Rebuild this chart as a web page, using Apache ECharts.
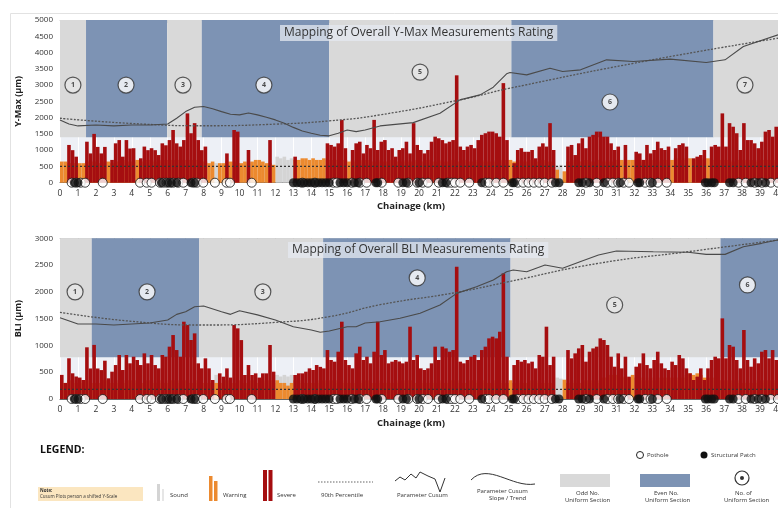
<!DOCTYPE html>
<html><head><meta charset="utf-8">
<script src="https://cdn.jsdelivr.net/npm/echarts@6/dist/echarts.min.js"></script>
<style>html,body{margin:0;padding:0;background:#fff;overflow:hidden;width:778px;height:508px}#c{width:778px;height:508px;position:absolute;left:0;top:0}</style>
</head><body><div id="c"></div>
<script>
// ---------- DATA ----------
const kmTicks = 40;
// bars every 0.2 km (centres at 0.1, 0.3, ...)
const ymaxSevere = [
0,0,1160,1000,800, 0,0,1260,900,1500, 1100,900,1100,0,700, 1210,1310,800,1310,1050,
1060,0,750,1110,1000, 1060,1000,850,1210,1150, 1310,1620,1210,1110,1310, 2130,1520,1830,1310,1000,
1110,0,0,0,0, 0,900,0,1620,1570, 0,0,1005,0,0, 0,0,0,1310,0,
0,0,0,0,0, 800,0,0,0,0, 0,0,0,0,1210, 1160,1110,1210,1930,1060,
0,1005,1210,1260,900, 1160,1060,1930,1005,1260, 1310,1005,1060,800,1005, 1060,1260,900,1830,1160,
1005,900,1005,1260,1415, 1365,1310,1210,1260,1310, 3300,1110,1005,1110,1160, 1060,1310,1470,1520,1570,
1570,1520,1415,3060,1310, 0,600,1005,1060,950, 950,1005,750,1110,1210, 1110,1830,1005,0,0,
0,1110,1160,850,1210, 1365,1060,1415,1470,1570, 1570,1415,1415,1210,1005, 1110,0,1160,0,0,
950,900,700,1160,900, 1005,1260,1060,1005,1110, 0,1060,1160,1210,1110, 0,750,800,850,1005,
0,1110,1160,1110,2130, 1110,1830,1720,1520,1005, 1830,1310,1310,1210,1060, 1260,1570,1620,1415,1720];
const ymaxWarning = [
650,650,600,600,600, 600,600,650,650,650, 600,600,650,650,600, 650,650,700,650,650,
650,700,650,650,700, 700,650,700,650,700, 700,700,700,700,700, 700,700,700,700,650,
650,600,650,0,600, 600,650,650,650,600, 600,650,600,650,700, 700,650,600,600,550,
0,0,0,0,0, 700,700,750,750,700, 750,700,700,750,700, 700,700,700,700,700,
650,700,650,700,650, 700,650,650,700,650, 650,650,700,650,650, 650,700,650,650,700,
650,650,700,650,650, 650,700,650,650,700, 650,650,700,650,650, 650,700,650,700,650,
700,650,700,650,700, 700,650,700,650,650, 650,700,650,650,700, 650,650,0,400,0,
350,650,650,700,650, 650,700,650,650,700, 700,650,700,650,700, 700,700,650,700,700,
700,650,700,700,650, 700,700,650,700,700, 700,750,700,700,750, 750,700,750,700,750,
750,700,700,700,700, 700,700,650,700,700, 700,650,700,700,650, 700,700,700,650,700];
const soundTopKm  = [8.7, 12.1, 12.3, 12.5, 12.7, 12.9, 27.5, 27.7, 27.9];
const soundTopVal = [600, 800, 750, 800, 700, 750, 550, 500, 550];

const bliSevere = [
450,300,760,480,420, 400,355,965,570,1010, 570,540,715,386,510, 634,821,541,821,666,
790,728,634,852,666, 821,634,572,821,790, 977,1194,914,790,1443, 1381,1101,1225,666,572,
759,572,355,0,479, 417,572,400,1381,1319, 1100,448,634,448,479, 400,479,479,1008,510,
0,0,0,0,0, 448,479,479,510,572, 541,634,600,572,914, 728,697,883,1443,728,
634,572,852,977,728, 790,666,883,1443,821, 914,666,697,728,700, 666,697,1350,728,821,
572,541,572,666,977, 728,977,945,883,914, 2470,697,666,728,790, 821,728,914,977,1132,
1163,1132,1256,2345,790, 0,634,728,697,728, 666,697,572,821,790, 1350,634,790,0,0,
0,914,759,852,945, 1008,697,883,945,977, 1132,1101,1008,790,603, 852,572,790,417,0,
603,666,852,634,572, 728,883,666,572,541, 697,634,821,759,572, 479,355,417,572,355,
572,728,790,759,1505, 759,1008,977,728,572, 1288,728,603,759,666, 883,914,759,914,728];
const bliWarning = [
300,300,350,350,300, 300,350,350,300,300, 300,300,350,350,300, 350,300,300,350,350,
300,350,300,300,350, 350,300,350,300,300, 350,350,300,350,350, 350,300,300,350,300,
300,300,350,300,300, 300,350,300,300,350, 350,300,300,350,300, 300,350,300,350,300,
350,300,300,250,300, 350,300,350,300,300, 300,350,300,350,300, 350,300,350,300,350,
300,350,300,300,350, 350,300,300,350,300, 300,350,300,350,300, 350,300,350,300,300,
300,350,300,350,300, 350,300,300,350,350, 300,350,300,300,350, 350,300,350,300,300,
300,350,300,350,300, 350,300,350,300,300, 300,350,300,350,300, 350,300,0,0,0,
360,300,350,300,300, 300,350,300,350,300, 350,400,400,450,450, 450,400,420,400,450,
400,350,400,350,400, 350,400,350,400,350, 400,350,400,400,450, 480,450,480,450,400,
400,350,400,350,350, 350,300,350,300,350, 300,350,300,350,300, 350,300,350,300,350];
const soundBliKm  = [8.7, 12.1, 12.3, 12.5, 12.7, 12.9, 27.7, 27.9];
const soundBliVal = [450, 450, 420, 450, 420, 450, 400, 380];

// Cusum and trend
const ymaxCusumKm  = [0,0.5,1,2,3,4,5,6,6.5,7,7.5,8,8.5,9,9.5,10,10.5,11,11.5,12,12.5,13,13.5,14,14.5,15,15.5,16,16.5,17,17.83,19.68,21.17,22.28,23.4,24.14,24.88,25.07,26,27.3,28,29,30.45,31.94,34,36,37.05,38.07,40];
const ymaxCusumVal = [1930,1805,1745,1775,1745,1775,1775,1805,1980,2185,2320,2340,2270,2185,2105,2085,2140,2085,2010,1930,1830,1700,1590,1520,1460,1440,1520,1620,1570,1620,1745,1846,2135,2546,2699,2935,3345,3386,3314,3520,3417,3468,3776,3725,3797,3694,3776,4186,4545];
const ymaxTrendKm  = [0,4,8,12,15,17.83,22.28,25.07,32.7,40];
const ymaxTrendVal = [1980,1820,1750,1800,1900,2085,2546,2904,3745,4440];

const bliCusumKm  = [0,1,2,3,4,5,6,6.5,7,7.5,8,9,9.5,10,11,12,13,14,14.5,15,16,16.5,17,17.83,18.94,20.06,21.17,22.1,23.2,24.14,24.88,25.25,26,27.02,28,28.97,30,31,33.05,35,36,37.05,38.07,39.09,40];
const bliCusumVal = [1518,1400,1400,1381,1400,1418,1475,1580,1630,1723,1735,1630,1580,1648,1570,1475,1350,1288,1245,1270,1350,1350,1418,1443,1506,1600,1755,1972,2096,2221,2376,2407,2376,2501,2440,2563,2688,2763,2750,2740,2700,2700,2843,2906,2968];
const bliTrendKm  = [0,4,8,12,15,17.83,22.1,25,30,35,40];
const bliTrendVal = [1618,1450,1381,1430,1537,1760,1990,2190,2533,2750,2968];

const ymaxP90 = 500;
const bliP90 = 180;

// Uniform sections
const ymaxSecStart = [0,1.45,5.97,7.9,15.0,25.15,36.4];
const ymaxSecEnd   = [1.45,5.97,7.9,15.0,25.15,36.4,40];
const ymaxSecBase  = 1400;
const ymaxSecLabelKm  = [0.72,3.68,6.85,11.36,20.06,30.64,38.16];
const ymaxSecLabelVal = [3000,3000,3000,3000,3400,2480,3000];
const bliSecStart = [0,1.77,7.75,14.66,25.1,36.8];
const bliSecEnd   = [1.77,7.75,14.66,25.1,36.8,40];
const bliSecBase  = 780;
const bliSecLabelKm  = [0.84,4.85,11.3,19.9,30.9,38.3];
const bliSecLabelVal = [2000,2000,2000,2260,1755,2130];

// Potholes / structural patches (km)
const potholeKm = [0.65,0.9,1.15,1.4,2.38,4.46,4.83,5.1,5.57,5.76,5.94,6.13,6.31,6.59,6.87,7.43,7.62,7.98,8.63,9.28,9.47,10.68,13.5,14.2,15.23,15.42,16.25,16.71,17.08,17.92,18.85,19.4,19.9,20.2,20.5,21.1,21.6,21.8,22.0,22.3,22.8,23.7,23.9,24.3,24.7,25.5,25.8,26.1,26.4,26.7,27.0,27.4,29.3,29.9,30.5,30.8,31.1,31.4,31.7,32.6,32.9,33.3,33.8,37.8,38.2,38.7,39.1,39.6,40];
const patchKm = [0.8,1.0,5.65,6.0,6.2,6.5,7.3,7.5,13.0,13.2,13.4,13.6,13.8,14.0,14.2,14.4,14.6,14.8,15.0,15.6,15.8,16.0,16.4,16.6,17.6,17.7,19.1,19.3,20.0,21.3,21.5,23.5,25.2,25.3,27.6,27.8,28.9,29.1,29.5,30.3,31.2,32.2,32.3,33.0,35.95,36.1,36.3,36.45,37.3,37.5,38.5,38.9,39.3];

// ---------- STYLE ----------
const FONT = 'Open Sans';
const RED = '#a50e10', ORANGE = '#ec8a2f', SOUND = '#d4d4d4';
const GRAY = '#d9d9d9', BLUE = '#7d93b4';
const toBars = arr => arr.map((v,i)=>[+(i*0.2+0.1).toFixed(2), v]);
const pairs = (k,v) => k.map((x,i)=>[x, v[i]]);

function sectionArea(starts, ends, base, top){
  return starts.map((s,i)=>[{xAxis:s, yAxis:base, itemStyle:{color: i%2===0 ? GRAY : BLUE}}, {xAxis:ends[i], yAxis:top}]);
}

function chartSeries(g, severe, warning, sKm, sVal, cKm, cVal, tKm, tVal, p90, secS, secE, base, top, lKm, lVal){
  const bar = (name, data, color, z) => ({name, type:'bar', xAxisIndex:g, yAxisIndex:g, data, barWidth:3.6, barGap:'-100%',
     itemStyle:{color}, z, silent:true});
  return [
    {type:'scatter', xAxisIndex:g, yAxisIndex:g, data:[[0,0]], symbolSize:0, z:1, silent:true,
     markArea:{silent:true, data: sectionArea(secS, secE, base, top)}},
    bar('Sound', pairs(sKm,sVal), SOUND, 2),
    bar('Warning', toBars(warning), ORANGE, 2),
    bar('Severe', toBars(severe), RED, 2),
    {type:'line', xAxisIndex:g, yAxisIndex:g, data:[[0,p90],[40,p90]], symbol:'none', z:4,
     lineStyle:{color:'#333', width:1.2, type:[2,2]}},
    {type:'line', xAxisIndex:g, yAxisIndex:g, data:pairs(tKm,tVal), symbol:'none', smooth:0.5, z:4,
     lineStyle:{color:'#555', width:1.3, type:[2,1.5]}},
    {type:'line', xAxisIndex:g, yAxisIndex:g, data:pairs(cKm,cVal), symbol:'none', z:4,
     lineStyle:{color:'#4a4a4a', width:1.1}},
    {type:'scatter', xAxisIndex:g, yAxisIndex:g, data:potholeKm.map(k=>[k,0]), symbolSize:9, z:6,
     itemStyle:{color:'#fff', borderColor:'#111', borderWidth:1}},
    {type:'scatter', xAxisIndex:g, yAxisIndex:g, data:patchKm.map(k=>[k,0]), symbolSize:9, z:6,
     itemStyle:{color:'#111'}},
    {type:'scatter', xAxisIndex:g, yAxisIndex:g, symbolSize:16, z:7,
     data: lKm.map((k,i)=>({value:[k,lVal[i]], itemStyle:{color: i%2===0 ? '#e6e6e6' : '#ffffff'}})),
     itemStyle:{borderColor:'#333', borderWidth:1.2},
     label:{show:true, position:'inside', formatter: p=>String(p.dataIndex+1), fontSize:7, fontWeight:'bold', color:'#222', fontFamily:FONT}}
  ];
}

const xAxisBase = (g, top) => ({gridIndex:g, type:'value', min:0, max:kmTicks, interval:1,
  axisLine:{show:true, lineStyle:{color:'#666', width:1}}, axisTick:{show:false},
  axisLabel:{fontSize:8.5, color:'#333', margin:6, fontFamily:FONT},
  splitLine:{show:true, lineStyle:{color:'#ffffff', width:1}},
  name:'Chainage (km)', nameLocation:'middle', nameGap:19,
  nameTextStyle:{fontWeight:'bold', fontSize:9.5, color:'#222', fontFamily:FONT, padding:[0,16,0,0]}});
const xAxisTop = g => ({gridIndex:g, type:'value', position:'top', min:0, max:kmTicks, interval:1,
  axisLine:{show:true, lineStyle:{color:'#cfcfcf'}}, axisTick:{show:true, inside:true, length:3, lineStyle:{color:'#aaa'}},
  axisLabel:{show:false}, splitLine:{show:false}});
const yAxisBase = (g, max, name) => ({gridIndex:g, type:'value', min:0, max, interval:500,
  axisLine:{show:false}, axisTick:{show:false}, splitLine:{show:false},
  axisLabel:{fontSize:8, color:'#333', margin:7, fontFamily:FONT, formatter: v => String(v)},
  name, nameLocation:'middle', nameGap:37, nameRotate:90,
  nameTextStyle:{fontWeight:'bold', fontSize:9, color:'#222', fontFamily:FONT}});

// legend graphics
const T = (x,y,text,opt={}) => ({type:'text', left:x, top:y, silent:true,
  style:Object.assign({text, fill:'#333', font:'6px "Open Sans"'}, opt)});
const legendGraphics = [
  {type:'rect', left:8, top:11, shape:{width:790, height:520}, style:{fill:'none', stroke:'#e2e2e2', lineWidth:1}, silent:true},
  T(40,445,'LEGEND:',{font:'bold 10.5px "Open Sans"', fill:'#111'}),
  {type:'rect', left:38, top:487, shape:{width:105, height:14}, style:{fill:'#fbe6c0'}},
  T(40,488,'Note:',{font:'bold 4.5px "Open Sans"'}),
  T(40,494,'Cusum Plots person a shifted Y-Scale',{font:'4.5px "Open Sans"'}),
  {type:'rect', left:157, top:484, shape:{width:3, height:17}, style:{fill:SOUND}},
  {type:'rect', left:162, top:489, shape:{width:2, height:12}, style:{fill:'#e6e6e6'}},
  T(170,492,'Sound'),
  {type:'rect', left:209, top:476, shape:{width:3.5, height:25}, style:{fill:ORANGE}},
  {type:'rect', left:214, top:481, shape:{width:3.5, height:20}, style:{fill:ORANGE}},
  T(223,492,'Warning'),
  {type:'rect', left:263, top:470, shape:{width:4, height:31}, style:{fill:RED}},
  {type:'rect', left:268.5, top:470, shape:{width:4, height:31}, style:{fill:RED}},
  T(277,492,'Severe'),
  {type:'line', shape:{x1:318, y1:482, x2:373, y2:482}, style:{stroke:'#666', lineWidth:1.2, lineDash:[1.5,1.5]}},
  T(321,492,'90th Percentile'),
  {type:'polyline', shape:{points:[[395,481],[400,477],[405,480],[411,474],[416,478],[420,472],[428,476],[435,479],[440,492],[445,478]]}, style:{fill:'none', stroke:'#333', lineWidth:1}},
  T(397,492,'Parameter Cusum'),
  {type:'bezierCurve', shape:{x1:471, y1:480, cpx1:488, cpy1:462, cpx2:512, cpy2:488, x2:535, y2:484}, style:{fill:'none', stroke:'#333', lineWidth:1}},
  T(477,488,'Parameter Cusum'),
  T(489,495,'Slope / Trend'),
  {type:'rect', left:560, top:474, shape:{width:50, height:13}, style:{fill:GRAY}},
  T(576,490,'Odd No.'),
  T(565,497,'Uniform Section'),
  {type:'rect', left:640, top:474, shape:{width:50, height:13}, style:{fill:BLUE}},
  T(654,490,'Even No.'),
  T(645,497,'Uniform Section'),
  {type:'circle', shape:{cx:742, cy:478, r:7}, style:{fill:'#fff', stroke:'#333', lineWidth:1.2}},
  {type:'circle', shape:{cx:742, cy:478, r:2}, style:{fill:'#333'}},
  T(735,490,'No. of'),
  T(724,497,'Uniform Section'),
  {type:'circle', shape:{cx:640, cy:455, r:3.5}, style:{fill:'#fff', stroke:'#222', lineWidth:1}},
  T(647,452,'Pothole'),
  {type:'circle', shape:{cx:704, cy:455, r:3.5}, style:{fill:'#111'}},
  T(711,452,'Structural Patch')
];

const chart = echarts.init(document.getElementById('c'), null, {renderer:'canvas', width:778, height:508});
chart.setOption({
  animation:false,
  backgroundColor:'#fff',
  textStyle:{fontFamily:FONT},
  title:[
    {text:'Mapping of Overall Y-Max Measurements Rating', left:280, top:25, padding:[2,4],
     backgroundColor:'rgba(228,232,240,0.75)', textStyle:{fontSize:12, fontWeight:'normal', color:'#333', fontFamily:FONT}},
    {text:'Mapping of Overall BLI Measurements Rating', left:288, top:242, padding:[2,4],
     backgroundColor:'rgba(228,232,240,0.75)', textStyle:{fontSize:12, fontWeight:'normal', color:'#333', fontFamily:FONT}}
  ],
  grid:[
    {left:60, right:0, top:20, height:162.7, show:true, backgroundColor:'#edf0f6', borderWidth:0, containLabel:false, outerBoundsMode:'none'},
    {left:60, right:0, top:238.3, height:160.7, show:true, backgroundColor:'#edf0f6', borderWidth:0, containLabel:false, outerBoundsMode:'none'}
  ],
  xAxis:[xAxisBase(0), xAxisBase(1), xAxisTop(0), xAxisTop(1)],
  yAxis:[yAxisBase(0,5000,'Y-Max (µm)'), yAxisBase(1,3000,'BLI (µm)')],
  series:[
    ...chartSeries(0, ymaxSevere, ymaxWarning, soundTopKm, soundTopVal, ymaxCusumKm, ymaxCusumVal, ymaxTrendKm, ymaxTrendVal, ymaxP90,
                   ymaxSecStart, ymaxSecEnd, ymaxSecBase, 5000, ymaxSecLabelKm, ymaxSecLabelVal),
    ...chartSeries(1, bliSevere, bliWarning, soundBliKm, soundBliVal, bliCusumKm, bliCusumVal, bliTrendKm, bliTrendVal, bliP90,
                   bliSecStart, bliSecEnd, bliSecBase, 3000, bliSecLabelKm, bliSecLabelVal)
  ],
  graphic: legendGraphics
});
</script></body></html>
